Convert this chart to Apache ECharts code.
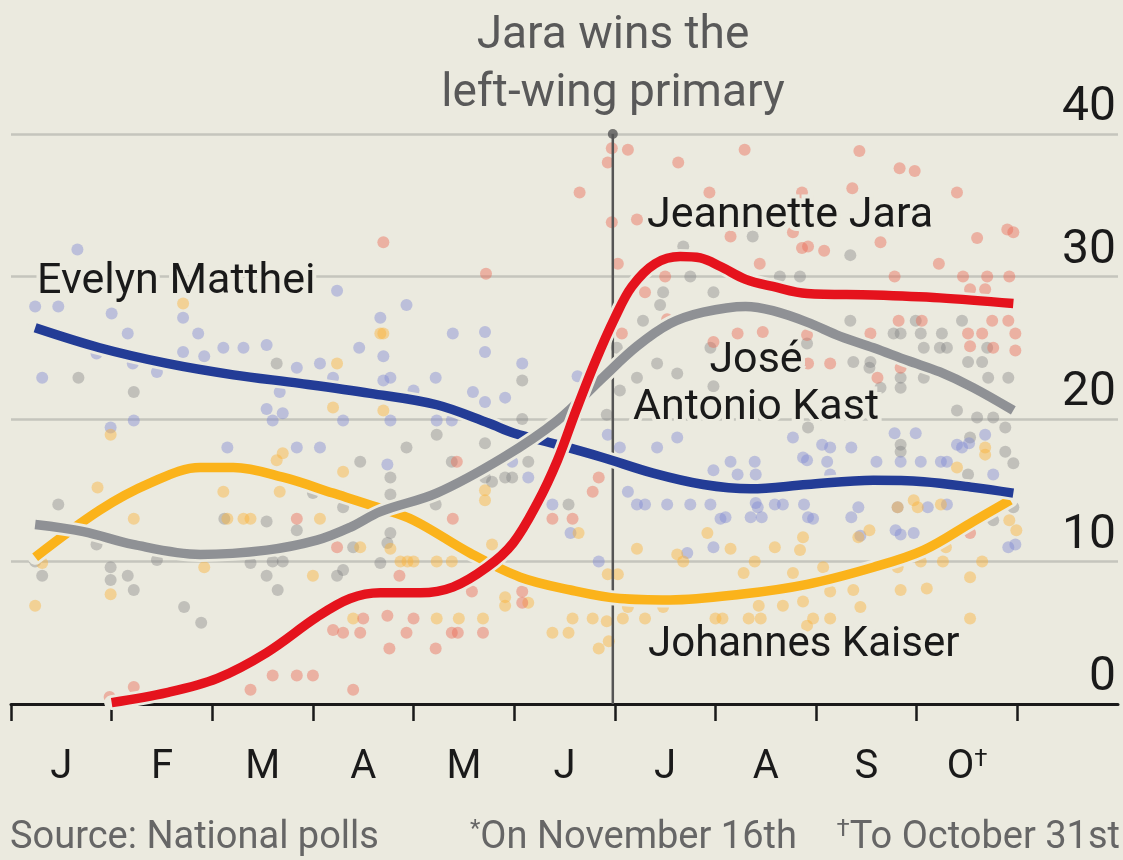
<!DOCTYPE html>
<html><head><meta charset="utf-8">
<script src="https://cdn.jsdelivr.net/npm/echarts@6/dist/echarts.min.js"></script>
<style>html,body{margin:0;padding:0;background:#ebeadf;}#c{width:1123px;height:860px;}</style>
</head><body><div id="c"></div>
<script>
// x values are months since January 1st (0 = Jan 1, 10 = Nov 1); y values are % support
const monthLabels = ['J','F','M','A','M','J','J','A','S','O'];
const monthTickValues = [0,1,2,3,4,5,6,7,8,9,10];
const monthLabelValues = [0.5,1.5,2.5,3.5,4.5,5.5,6.5,7.5,8.5,9.5];
const yTickValues = [0,10,20,30,40];
const primaryDate = 5.98;

const mattheiTrend = [[0.24,26.4],[0.88,25.0],[1.55,23.9],[2.21,23.1],[2.87,22.5],[3.57,21.8],[4.23,21.0],[4.75,19.7],[5.0,19.0],[5.43,18.2],[5.88,17.3],[6.38,16.2],[6.88,15.4],[7.35,15.1],[7.91,15.4],[8.57,15.7],[9.07,15.6],[9.56,15.2],[9.96,14.8]];
const kastTrend = [[0.24,12.6],[0.72,12.1],[1.21,11.2],[1.88,10.5],[2.54,10.8],[3.04,11.5],[3.37,12.4],[3.67,13.5],[4.23,14.8],[4.89,17.3],[5.43,19.9],[5.88,22.9],[6.22,25.1],[6.55,26.7],[6.88,27.5],[7.3,27.9],[7.57,27.6],[7.91,26.8],[8.24,25.8],[8.57,25.0],[8.91,24.1],[9.23,23.3],[9.56,22.2],[9.96,20.6]];
const kaiserTrend = [[0.24,10.3],[0.88,13.6],[1.38,15.5],[1.88,16.6],[2.21,16.6],[2.71,15.9],[3.2,14.8],[3.64,13.8],[4.0,12.9],[4.56,10.6],[5.06,8.9],[5.56,8.0],[6.05,7.4],[6.55,7.3],[7.25,7.7],[7.91,8.4],[8.57,9.6],[9.07,10.8],[9.56,12.8],[9.93,14.3]];
const jaraTrend = [[1.0,0.1],[1.55,0.8],[2.05,1.8],[2.54,3.6],[3.04,6.1],[3.37,7.4],[3.67,7.8],[4.07,7.8],[4.39,8.2],[4.73,9.6],[4.99,11.3],[5.23,14.1],[5.43,17.1],[5.62,20.7],[5.81,24.1],[6.0,27.1],[6.17,29.3],[6.4,30.9],[6.65,31.4],[6.85,31.3],[7.05,30.7],[7.3,29.8],[7.57,29.3],[7.91,28.8],[8.57,28.7],[9.23,28.5],[9.96,28.1]];

const mattheiPolls = [[0.66,31.9],[0.24,27.9],[0.47,27.9],[1.00,27.4],[1.71,27.1],[1.16,26.0],[1.86,26.0],[0.85,24.6],[1.71,24.7],[1.92,24.4],[2.11,25.0],[2.31,25.0],[2.54,25.2],[2.84,23.6],[3.07,23.9],[3.46,25.0],[3.24,29.0],[0.31,22.9],[1.21,23.9],[1.45,23.3],[2.54,20.7],[2.70,20.4],[2.60,19.9],[3.20,22.9],[3.30,19.9],[1.22,19.9],[0.99,19.4],[2.67,21.9],[2.15,18.0],[2.84,18.0],[3.07,18.0],[3.67,27.1],[3.93,28.0],[3.70,24.4],[3.77,22.9],[3.70,22.7],[4.00,22.0],[4.39,26.0],[4.71,26.1],[4.71,24.7],[4.22,22.9],[4.59,21.9],[4.71,21.2],[4.91,21.5],[5.08,23.9],[5.63,23.0],[3.77,19.9],[4.23,19.9],[4.38,19.9],[3.74,16.8],[4.98,17.0],[5.14,15.9],[5.38,14.0],[5.56,12.0],[5.84,10.0],[6.13,14.9],[6.22,14.0],[6.30,14.0],[6.52,14.0],[6.75,14.0],[6.95,14.0],[7.05,13.0],[6.98,11.0],[6.72,10.6],[6.42,18.0],[6.62,18.7],[7.15,17.0],[6.98,16.4],[7.22,16.1],[5.93,18.9],[6.05,18.0],[7.10,13.1],[7.35,13.1],[7.46,13.1],[7.42,13.8],[7.59,14.0],[7.67,14.0],[7.88,14.0],[7.92,13.1],[8.35,13.1],[8.42,13.8],[7.39,17.0],[7.77,18.7],[8.06,18.2],[8.14,18.0],[8.35,18.0],[8.60,17.0],[8.78,19.0],[8.99,19.0],[9.24,17.0],[9.52,18.3],[9.68,18.9],[9.40,18.2],[9.45,18.0],[7.87,17.3],[7.91,17.1],[8.11,17.0],[8.84,17.0],[9.04,17.0],[9.30,17.0],[9.76,16.1],[7.40,16.1],[8.14,16.1],[7.40,14.1],[7.97,13.0],[8.81,13.8],[9.11,13.8],[9.30,14.0],[8.79,12.2],[8.84,11.9],[8.97,12.0],[8.44,11.8],[9.91,11.0],[9.98,11.2]];
const kastPolls = [[0.67,22.9],[1.22,21.9],[2.64,23.9],[3.47,17.0],[0.47,14.0],[2.12,13.0],[2.54,12.8],[2.84,12.2],[3.30,13.8],[3.40,11.0],[0.24,10.0],[0.31,9.0],[0.99,9.6],[0.99,8.7],[1.16,9.0],[1.22,8.0],[2.54,9.0],[2.65,8.0],[3.24,9.0],[3.30,9.4],[1.72,6.8],[1.89,5.7],[1.45,10.1],[2.60,10.0],[2.70,10.0],[2.38,9.9],[0.85,11.2],[3.00,14.8],[3.67,9.9],[4.23,18.9],[3.93,18.0],[4.71,18.3],[3.77,15.9],[4.38,17.0],[5.14,17.0],[4.71,15.9],[4.78,15.6],[4.91,15.9],[4.98,15.9],[3.77,14.7],[4.22,14.0],[5.54,14.0],[3.77,12.0],[3.74,11.3],[5.08,20.0],[5.08,22.7],[6.68,32.1],[6.75,30.0],[6.98,28.9],[6.48,28.9],[6.45,28.0],[6.28,26.9],[6.95,25.0],[6.42,23.9],[6.62,23.2],[6.22,22.9],[6.98,22.3],[6.02,25.0],[6.05,22.0],[5.92,20.3],[7.37,32.8],[8.34,31.5],[7.64,30.0],[7.84,30.0],[8.34,26.9],[8.99,26.9],[9.45,26.9],[8.77,26.0],[8.84,26.0],[9.04,26.0],[9.25,26.0],[7.91,25.3],[9.07,25.0],[9.23,25.0],[9.30,25.0],[9.70,25.0],[8.37,24.0],[8.54,24.0],[9.51,24.0],[9.65,24.0],[8.84,22.9],[9.07,22.9],[9.71,22.9],[9.91,22.9],[8.64,22.2],[8.84,22.2],[9.40,20.6],[9.60,20.1],[9.76,20.1],[8.53,23.6],[7.92,19.4],[8.84,18.2],[8.84,17.7],[9.53,18.7],[9.88,19.4],[9.88,17.7],[9.96,16.9],[9.96,13.8],[9.76,12.9],[9.51,16.1]];
const kaiserPolls = [[1.71,28.1],[3.24,23.9],[3.20,20.8],[0.99,18.9],[2.70,17.6],[2.64,17.1],[3.67,26.0],[3.30,16.3],[0.86,15.2],[1.22,13.0],[2.11,14.9],[2.67,14.9],[2.15,13.0],[2.31,13.0],[2.38,13.0],[3.07,13.0],[3.47,11.0],[0.31,9.9],[0.24,6.9],[0.99,7.7],[1.92,9.6],[3.00,9.0],[3.40,6.0],[3.70,26.0],[3.70,20.6],[4.71,15.0],[4.71,14.3],[5.64,12.0],[3.77,10.9],[4.78,11.2],[3.87,10.0],[3.94,10.0],[4.00,10.0],[4.23,10.0],[4.38,10.0],[5.93,9.1],[6.03,9.1],[4.91,7.5],[4.91,6.9],[5.14,7.1],[4.23,6.0],[4.45,6.0],[4.69,6.0],[5.38,5.0],[5.54,5.0],[5.58,6.0],[5.78,6.0],[5.92,5.8],[5.84,3.9],[5.94,4.4],[6.62,10.5],[6.68,10.0],[6.22,10.9],[6.92,12.0],[7.15,10.9],[7.28,9.2],[6.08,6.0],[6.30,6.0],[7.00,6.0],[7.07,6.0],[6.13,6.8],[6.48,6.8],[7.39,10.0],[7.59,11.0],[7.84,10.8],[8.42,11.7],[8.53,12.2],[9.92,12.9],[9.99,12.2],[9.29,11.0],[9.68,18.0],[9.68,17.5],[9.40,16.6],[8.97,14.3],[9.01,13.8],[8.81,13.8],[9.24,14.0],[7.87,11.7],[8.07,9.6],[9.04,10.0],[9.26,10.0],[9.65,10.0],[7.77,9.2],[8.81,9.6],[9.53,8.9],[8.14,7.9],[8.37,8.0],[8.84,8.0],[9.10,8.1],[7.43,6.9],[7.67,6.9],[7.87,7.2],[8.44,6.8],[7.33,6.0],[7.45,6.0],[7.97,6.0],[8.14,6.0],[7.91,5.5],[9.53,6.0]];
const jaraPolls = [[5.97,39.0],[6.13,38.9],[5.93,38.0],[5.65,35.9],[6.63,38.0],[7.29,38.9],[8.43,38.8],[8.83,37.6],[8.98,37.4],[9.40,35.9],[6.94,35.9],[8.36,36.2],[7.86,35.9],[5.97,33.8],[6.22,34.0],[9.90,33.3],[9.96,33.1],[9.60,32.7],[8.64,32.4],[7.86,32.0],[7.92,32.1],[8.08,31.8],[9.22,30.9],[8.78,30.0],[9.46,30.0],[9.70,30.0],[9.92,30.0],[7.44,30.9],[3.70,32.4],[4.72,30.2],[6.03,30.9],[7.15,32.8],[6.50,30.0],[6.30,28.9],[9.53,29.1],[9.68,29.1],[8.82,26.9],[9.05,26.9],[9.75,26.9],[9.91,26.9],[7.47,26.1],[7.91,25.9],[8.54,26.0],[9.51,26.0],[9.65,26.0],[9.98,26.0],[9.53,25.1],[9.76,25.0],[9.98,24.8],[7.92,23.9],[8.14,23.9],[8.84,23.6],[8.61,22.9],[6.07,26.0],[7.22,26.0],[6.98,25.4],[6.52,27.0],[5.84,15.9],[5.78,14.9],[4.39,13.0],[5.38,13.0],[5.58,13.0],[4.43,17.0],[3.86,9.0],[4.58,7.9],[5.08,7.9],[5.08,7.1],[3.74,6.2],[4.00,6.0],[3.93,5.0],[4.38,5.0],[4.44,5.0],[4.69,5.0],[3.76,3.9],[4.22,3.9],[3.24,11.0],[3.50,6.0],[3.20,5.2],[3.30,5.0],[3.47,5.0],[2.60,2.0],[2.84,2.0],[3.00,2.0],[2.38,1.0],[3.40,1.0],[1.22,1.2],[0.98,0.5],[9.53,12.0],[2.84,13.0],[7.77,33.1]];

const BG = '#ebeadf';
const FONT = 'Roboto';
const chart = echarts.init(document.getElementById('c'), null, {renderer:'canvas'});

function dots(data, color){
  return {type:'scatter', data, symbolSize:12, silent:true, z:1,
    itemStyle:{color, borderWidth:0}};
}
function trend(data, color, z){
  return [
    {type:'line', data, smooth:0.35, showSymbol:false, silent:true, z:z,
     lineStyle:{color:BG, width:15, cap:'round'}},
    {type:'line', data, smooth:0.35, showSymbol:false, silent:true, z:z,
     lineStyle:{color, width:9.5, cap:'butt'}}
  ];
}

const option = {
  backgroundColor: BG,
  animation: false,
  textStyle:{fontFamily:FONT},
  grid:{left:11, right:5, top:134, bottom:156},
  xAxis:{type:'value', min:0, max:11, interval:1,
    axisLine:{show:true, lineStyle:{color:'#1a1a1a', width:3}},
    axisTick:{show:true, customValues:monthTickValues, length:17, lineStyle:{color:'#1a1a1a', width:2.5}},
    axisLabel:{show:true, customValues:monthLabelValues, margin:44, color:'#1a1a1a', fontSize:40, fontFamily:FONT,
      formatter:(v)=>{ const i=Math.floor(v); return i===9 ? '{a|O}{s|†}' : '{a|'+monthLabels[i]+'}'; },
      rich:{a:{fontSize:40, fontFamily:FONT, color:'#1a1a1a', lineHeight:40}, s:{fontSize:24, fontFamily:FONT, color:'#1a1a1a', verticalAlign:'top', lineHeight:24}}},
    splitLine:{show:false}},
  yAxis:{type:'value', position:'right', min:0, max:40, interval:10,
    axisLine:{show:false}, axisTick:{show:false},
    axisLabel:{inside:true, margin:2, color:'#1a1a1a', fontSize:48, fontFamily:FONT, verticalAlign:'bottom', padding:[0,0,2,0],
      customValues: yTickValues},
    splitLine:{show:true, lineStyle:{color:'#c5c5bd', width:2.5}}},
  series:[
    dots(kastPolls,'rgba(118,120,122,0.45)'),
    dots(mattheiPolls,'rgba(128,136,212,0.55)'),
    dots(kaiserPolls,'rgba(250,178,55,0.55)'),
    dots(jaraPolls,'rgba(235,105,85,0.55)'),
    {type:'line', data:[[primaryDate,0],[primaryDate,40]], showSymbol:false, silent:true, z:2,
     lineStyle:{color:'#555555', width:2.5}},
    {type:'scatter', data:[[primaryDate,40]], symbolSize:10, silent:true, z:2, itemStyle:{color:'#555555'}},
    ...trend(kaiserTrend,'#fbb31b',3),
    ...trend(mattheiTrend,'#233c96',4),
    ...trend(kastTrend,'#8f9195',5),
    ...trend(jaraTrend,'#e5131d',6)
  ],
  graphic:[
    {type:'text', z:100, style:{text:'Jara wins the\nleft-wing primary', x:613, y:65, align:'center', verticalAlign:'middle',
      font:'46px '+FONT, fill:'#595959', lineHeight:58}},
    {type:'text', z:100, style:{text:'Evelyn Matthei', x:37, y:282, verticalAlign:'middle', font:'43px '+FONT, fill:'#1a1a1a', stroke:BG, lineWidth:8}},
    {type:'text', z:100, style:{text:'Jeannette Jara', x:647, y:216, verticalAlign:'middle', font:'43px '+FONT, fill:'#1a1a1a', stroke:BG, lineWidth:8}},
    {type:'text', z:100, style:{text:'José', x:756, y:361, align:'center', verticalAlign:'middle', font:'43px '+FONT, fill:'#1a1a1a', stroke:BG, lineWidth:8}},
    {type:'text', z:100, style:{text:'Antonio Kast', x:756, y:408, align:'center', verticalAlign:'middle', font:'43px '+FONT, fill:'#1a1a1a', stroke:BG, lineWidth:8}},
    {type:'text', z:100, style:{text:'Johannes Kaiser', x:648, y:645, verticalAlign:'middle', font:'42px '+FONT, fill:'#1a1a1a', stroke:BG, lineWidth:8}},
    {type:'text', z:100, style:{text:'Source: National polls', x:10, y:838, verticalAlign:'middle', font:'38px '+FONT, fill:'#666666'}},
    {type:'text', z:100, style:{text:'{s|*}{a|On November 16th}', x:470, y:838, verticalAlign:'middle', fill:'#666666',
      rich:{a:{font:'38px '+FONT, fill:'#666666', lineHeight:40}, s:{font:'24px '+FONT, fill:'#666666', verticalAlign:'top', lineHeight:24}}}},
    {type:'text', z:100, style:{text:'{s|†}{a|To October 31st}', x:1120, y:838, align:'right', verticalAlign:'middle', fill:'#666666',
      rich:{a:{font:'38px '+FONT, fill:'#666666', lineHeight:40}, s:{font:'24px '+FONT, fill:'#666666', verticalAlign:'top', lineHeight:24}}}}
  ]
};
chart.setOption(option);
</script></body></html>
